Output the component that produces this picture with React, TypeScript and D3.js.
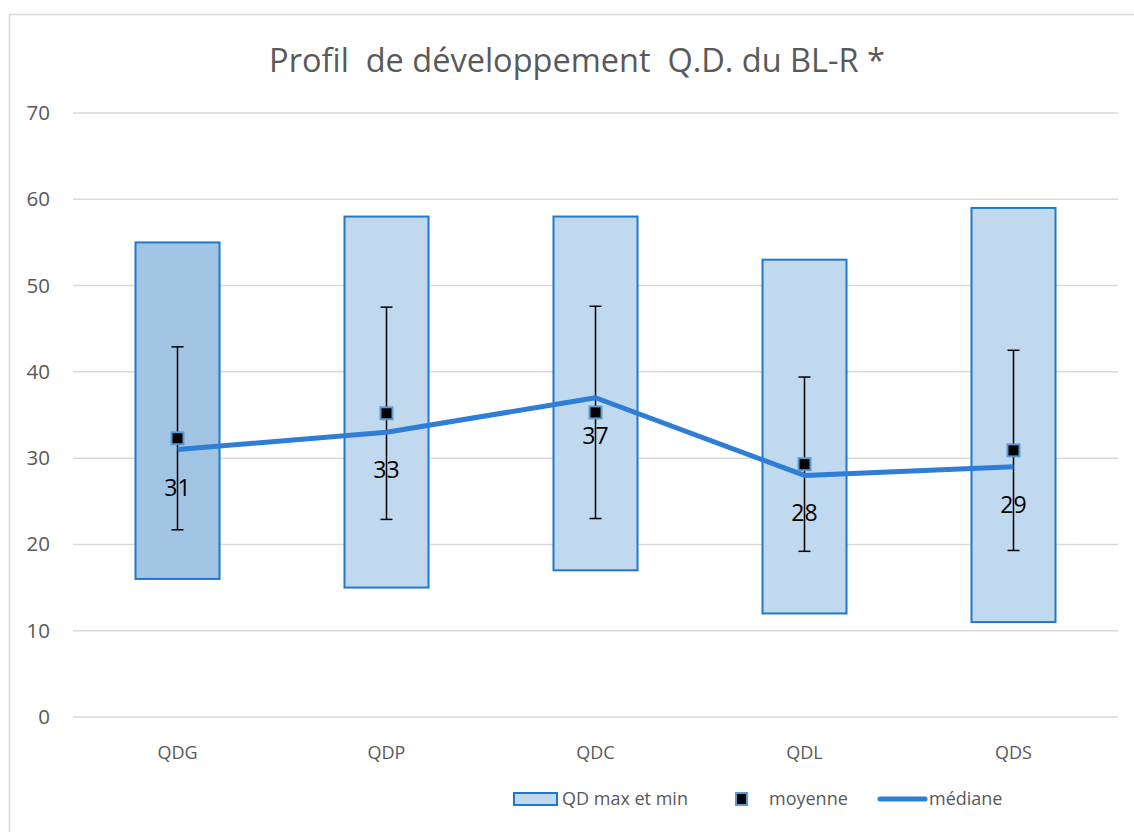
import React from "react";
import * as d3 from "d3";

const categories = ["QDG", "QDP", "QDC", "QDL", "QDS"];
const maxValues = [55, 58, 58, 53, 59];
const minValues = [16, 15, 17, 12, 11];
const meanValues = [32.3, 35.2, 35.3, 29.3, 30.9];
const meanErrors = [10.6, 12.3, 12.3, 10.1, 11.6];
const medianValues = [31, 33, 37, 28, 29];
const yTicks = [0, 10, 20, 30, 40, 50, 60, 70];
const title = "Profil  de développement  Q.D. du BL-R *";

const W = 1134;
const H = 832;
const left = 73;
const right = 1118;
const top = 113;
const bottom = 717;
const FONT = "'Open Sans', 'Noto Sans', sans-serif";

export default function App() {
  const x = d3.scaleBand<string>().domain(categories).range([left, right]).paddingInner(0.6).paddingOuter(0.3);
  const xc = (c: string) => (x(c) as number) + x.bandwidth() / 2;
  const y = d3.scaleLinear().domain([0, 70]).range([bottom, top]);
  const bw = 84;
  const line = d3
    .line<number>()
    .x((_, i) => xc(categories[i]))
    .y((d) => y(d));

  return (
    <svg
      width={W}
      height={H}
      style={{ position: "absolute", left: 0, top: 0, background: "#fff" }}
      fontFamily={FONT}
    >
      <rect x={9.5} y={14.5} width={W + 20} height={H + 20} fill="#fff" stroke="#d9d9d9" strokeWidth={1.5} />
      <text x={577} y={72} textAnchor="middle" fontSize={32.5} fill="#595959" style={{ whiteSpace: "pre" }}>
        {title}
      </text>
      {yTicks.map((t) => (
        <g key={t}>
          <line x1={left} x2={right} y1={y(t)} y2={y(t)} stroke="#d9d9d9" strokeWidth={1.5} />
          <text x={50} y={y(t) + 7} textAnchor="end" fontSize={20.5} fill="#595959">
            {t}
          </text>
        </g>
      ))}
      {categories.map((c) => (
        <text key={c} x={xc(c)} y={759} textAnchor="middle" fontSize={18} fill="#595959">
          {c}
        </text>
      ))}
      {categories.map((c, i) => (
        <rect
          key={c}
          x={xc(c) - bw / 2}
          y={y(maxValues[i])}
          width={bw}
          height={y(minValues[i]) - y(maxValues[i])}
          fill={i === 0 ? "#a2c4e3" : "#c1d9ee"}
          stroke="#1f78cc"
          strokeWidth={2}
        />
      ))}
      {categories.map((c, i) => {
        const cx = xc(c);
        const hi = y(meanValues[i] + meanErrors[i]);
        const lo = y(meanValues[i] - meanErrors[i]);
        return (
          <g key={c} stroke="#000" strokeWidth={1.5}>
            <line x1={cx} x2={cx} y1={hi} y2={lo} />
            <line x1={cx - 6} x2={cx + 6} y1={hi} y2={hi} />
            <line x1={cx - 6} x2={cx + 6} y1={lo} y2={lo} />
          </g>
        );
      })}
      <path d={line(medianValues) || ""} fill="none" stroke="#2e7dd6" strokeWidth={5} strokeLinejoin="round" />
      {categories.map((c, i) => (
        <rect
          key={c}
          x={xc(c) - 6}
          y={y(meanValues[i]) - 6}
          width={12}
          height={12}
          fill="#000"
          stroke="#5b9bd5"
          strokeWidth={2}
        />
      ))}
      {categories.map((c, i) => (
        <text key={c} x={xc(c)} y={y(medianValues[i]) + 46} textAnchor="middle" fontSize={23} fill="#000">
          {medianValues[i]}
        </text>
      ))}
      <g>
        <rect x={514} y={793} width={43} height={12} fill="#c1d9ee" stroke="#1f78cc" strokeWidth={2} />
        <text x={562} y={805} fontSize={18} fill="#595959">QD max et min</text>
        <rect x={736} y={793} width={11} height={12} fill="#000" stroke="#5b9bd5" strokeWidth={2} />
        <text x={769} y={805} fontSize={18} fill="#595959">moyenne</text>
        <line x1={880} x2={925} y1={799} y2={799} stroke="#2e7dd6" strokeWidth={5} strokeLinecap="round" />
        <text x={929} y={805} fontSize={18} fill="#595959">médiane</text>
      </g>
    </svg>
  );
}
